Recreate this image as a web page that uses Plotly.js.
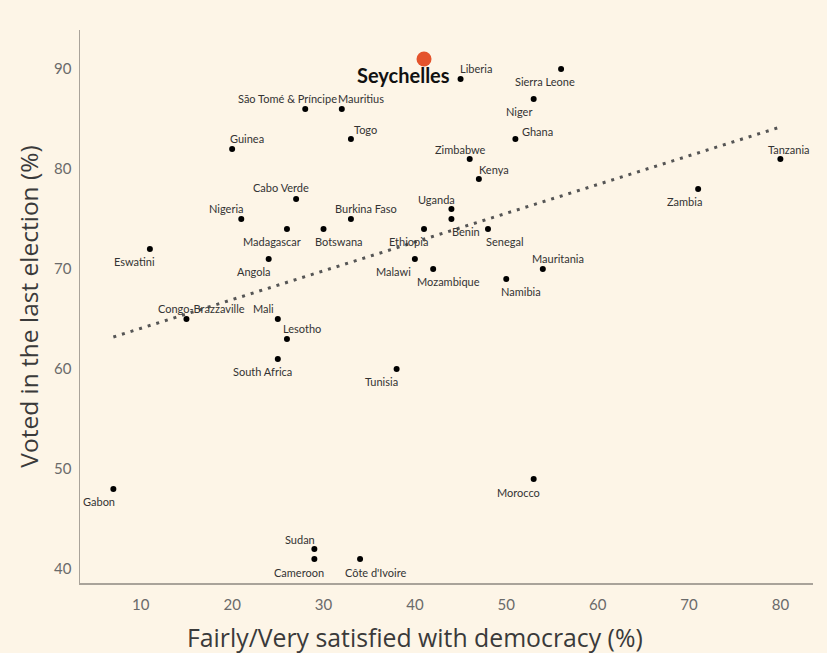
<!DOCTYPE html>
<html>
<head>
<meta charset="utf-8">
<script src="https://cdn.plot.ly/plotly-3.0.1.min.js"></script>
<style>
  html, body { margin: 0; padding: 0; background: #fdf5e7; }
  #chart { width: 827px; height: 653px; }
</style>
</head>
<body>
<div id="chart"></div>
<script>
// ---- Data ----
const countries = [
  "Gabon", "Sudan", "Cameroon", "Côte d'Ivoire", "Morocco", "Tunisia",
  "South Africa", "Lesotho", "Mali", "Congo-Brazzaville", "Eswatini", "Angola",
  "Madagascar", "Botswana", "Nigeria", "Cabo Verde", "Burkina Faso", "Guinea",
  "São Tomé & Príncipe", "Mauritius", "Togo", "Seychelles", "Liberia", "Sierra Leone",
  "Niger", "Ghana", "Zimbabwe", "Kenya", "Uganda", "Benin",
  "Ethiopia", "Malawi", "Mozambique", "Senegal", "Mauritania", "Namibia",
  "Zambia", "Tanzania"
];
const satisfied = [
  7, 29, 29, 34, 53, 38,
  25, 26, 25, 15, 11, 24,
  26, 30, 21, 27, 33, 20,
  28, 32, 33, 41, 45, 56,
  53, 51, 46, 47, 44, 44,
  41, 40, 42, 48, 54, 50,
  71, 80
];
const voted = [
  48, 42, 41, 41, 49, 60,
  61, 63, 65, 65, 72, 71,
  74, 74, 75, 77, 75, 82,
  86, 86, 83, 91, 89, 90,
  87, 83, 81, 79, 76, 75,
  74, 71, 70, 74, 70, 69,
  78, 81
];
const highlight = "Seychelles";
const trendX = [7, 80];
const trendY = [63.2, 84.2];
const xTicks = [10, 20, 30, 40, 50, 60, 70, 80];
const yTicks = [40, 50, 60, 70, 80, 90];

// ---- Label placement (pixel offsets from each point) ----
const labelOffsets = {
  "Gabon": [-14, -12], "Sudan": [-14, 10], "Cameroon": [-15, -13], "Côte d'Ivoire": [15, -13],
  "Morocco": [-15, -13], "Tunisia": [-15, -12], "South Africa": [-15, -12], "Lesotho": [15, 11],
  "Mali": [-14, 11], "Congo-Brazzaville": [15, 11], "Eswatini": [-15, -12], "Angola": [-15, -12],
  "Madagascar": [-15, -12], "Botswana": [15, -12], "Nigeria": [-15, 11], "Cabo Verde": [-15, 12],
  "Burkina Faso": [15, 11], "Guinea": [15, 11], "São Tomé & Príncipe": [-18, 11], "Mauritius": [19, 11],
  "Togo": [15, 10], "Seychelles": [-21, -16], "Liberia": [15, 11], "Sierra Leone": [-16, -12],
  "Niger": [-15, -12], "Ghana": [22, 8], "Zimbabwe": [-9, 10], "Kenya": [15, 10],
  "Uganda": [-15, 10], "Benin": [15, -12], "Ethiopia": [-16, -12], "Malawi": [-21, -12],
  "Mozambique": [15, -12], "Senegal": [17, -12], "Mauritania": [15, 11], "Namibia": [15, -12],
  "Zambia": [-14, -12], "Tanzania": [9, 10]
};

const FONT = "Lato, 'Open Sans', sans-serif";
const TITLE_FONT = "'Open Sans', Lato, sans-serif";
const others = countries.map((c, i) => i).filter(i => countries[i] !== highlight);
const hi = countries.indexOf(highlight);

const traces = [
  {
    type: "scatter", mode: "lines", x: trendX, y: trendY,
    line: { color: "#555555", width: 3, dash: "3px,6px" },
    hoverinfo: "skip", showlegend: false
  },
  {
    type: "scatter", mode: "markers",
    x: others.map(i => satisfied[i]), y: others.map(i => voted[i]),
    text: others.map(i => countries[i]),
    marker: { color: "#000000", size: 6 },
    showlegend: false
  },
  {
    type: "scatter", mode: "markers",
    x: [satisfied[hi]], y: [voted[hi]], text: [countries[hi]],
    marker: { color: "#e4532c", size: 15 },
    showlegend: false
  }
];

const annotations = countries.map((c, i) => {
  const off = labelOffsets[c] || [0, 10];
  const isHi = c === highlight;
  return {
    x: satisfied[i], y: voted[i], xref: "x", yref: "y",
    text: isHi ? "<b>" + c + "</b>" : c,
    showarrow: false, xshift: off[0], yshift: off[1],
    font: { family: FONT, size: isHi ? 20 : 11, color: isHi ? "#111111" : "#333333" }
  };
});

// x-axis title centred on the full figure
annotations.push({
  text: "Fairly/Very satisfied with democracy (%)",
  xref: "paper", yref: "paper", x: (415 - 80) / 733, y: -0.098, yanchor: "middle",
  showarrow: false, font: { family: TITLE_FONT, size: 24.8, color: "#3a3a3a" }
});

const layout = {
  width: 827, height: 653,
  margin: { l: 80, r: 14, t: 30, b: 70 },
  paper_bgcolor: "#fdf5e7", plot_bgcolor: "#fdf5e7",
  font: { family: FONT },
  showlegend: false,
  xaxis: {
    range: [3.35, 83.57], tickvals: xTicks, ticktext: xTicks.map(String),
    showgrid: false, zeroline: false, showline: true, linecolor: "#a9a39a", linewidth: 1.5,
    ticks: "", ticklabelstandoff: 7,
    tickfont: { family: FONT, size: 15, color: "#6a6a6a" }
  },
  yaxis: {
    range: [38.6, 93.9], tickvals: yTicks, ticktext: yTicks.map(String),
    showgrid: false, zeroline: false, showline: true, linecolor: "#a9a39a", linewidth: 1.5,
    ticks: "", ticklabelstandoff: 4,
    title: { text: "Voted in the last election (%)", font: { family: TITLE_FONT, size: 24.5, color: "#3a3a3a" }, standoff: 8 },
    tickfont: { family: FONT, size: 15, color: "#6a6a6a" }
  },
  annotations: annotations
};

Plotly.newPlot("chart", traces, layout, { displayModeBar: false, staticPlot: true });
</script>
</body>
</html>
